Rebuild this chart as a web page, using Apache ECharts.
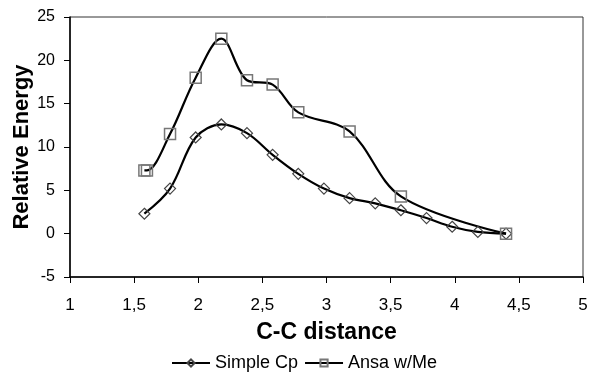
<!DOCTYPE html>
<html>
<head>
<meta charset="utf-8">
<script src="https://cdn.jsdelivr.net/npm/echarts@6/dist/echarts.min.js"></script>
<style>
html,body{margin:0;padding:0;background:#fff;}
#container{width:589px;height:372px;}
</style>
</head>
<body>
<div id="container"></div>
<script>
// data
var simpleX = [1.58, 1.78, 1.98, 2.18, 2.38, 2.58, 2.78, 2.98, 3.18, 3.38, 3.58, 3.78, 3.98, 4.18, 4.40];
var simpleY = [2.3, 5.2, 11.1, 12.6, 11.6, 9.1, 6.9, 5.2, 4.1, 3.5, 2.7, 1.8, 0.8, 0.2, 0];
var ansaX = [1.58, 1.60, 1.78, 1.98, 2.18, 2.38, 2.58, 2.78, 3.18, 3.58, 4.40];
var ansaY = [7.3, 7.3, 11.5, 18.0, 22.5, 17.7, 17.2, 14.0, 11.8, 4.3, 0];
var seriesNames = ['Simple Cp', 'Ansa w/Me'];

function pairs(xs, ys){
    var out = [];
    for(var i=0;i<xs.length;i++){
        out.push([xs[i], ys[i]]);
    }
    return out;
}

var dom = document.getElementById("container");
var myChart = echarts.init(dom);
var font = 'Liberation Sans, Arial, sans-serif';
var option = {
    animation: false,
    textStyle: {fontFamily: font},
    grid: {
        left: 70,
        right: 6,
        top: 17,
        bottom: 95,
        outerBoundsMode: 'none',
        containLabel: false,
        show: true,
        borderColor: '#333',
        borderWidth: 1
    },
    legend: {
        data: seriesNames,
        bottom: -5,
        left: 166,
        itemWidth: 38,
        itemHeight: 9,
        itemGap: 6,
        textStyle: {fontSize: 18, color: '#000', fontFamily: font}
    },
    xAxis: {
        type: 'value',
        min: 1,
        max: 5,
        interval: 0.5,
        name: 'C-C distance',
        nameLocation: 'middle',
        nameGap: 44,
        nameMoveOverlap: false,
        nameTextStyle: {fontSize: 23, fontWeight: 'bold', color: '#000', fontFamily: font},
        axisLine: {onZero: false, lineStyle: {color: '#000', width: 1.5}},
        axisTick: {show: true, length: 6, lineStyle: {color: '#000'}},
        axisLabel: {
            fontSize: 17,
            color: '#000',
            margin: 20,
            formatter: function(v){ return String(v).replace('.', ','); }
        },
        splitLine: {show: false}
    },
    yAxis: {
        type: 'value',
        min: -5,
        max: 25,
        interval: 5,
        name: 'Relative Energy',
        nameLocation: 'middle',
        nameGap: 37,
        nameMoveOverlap: false,
        nameTextStyle: {fontSize: 22, fontWeight: 'bold', color: '#000', fontFamily: font},
        axisLine: {show: true, onZero: false, lineStyle: {color: '#000', width: 1.5}},
        axisTick: {show: true, length: 6, lineStyle: {color: '#000'}},
        axisLabel: {fontSize: 16, color: '#000', margin: 15},
        splitLine: {show: false}
    },
    series: [{
        name: seriesNames[0],
        type: 'line',
        smooth: 0.35,
        data: pairs(simpleX, simpleY),
        symbol: 'diamond',
        symbolSize: 11,
        lineStyle: {color: '#000', width: 2.2},
        itemStyle: {color: 'rgba(255,255,255,0)', borderColor: '#444', borderWidth: 1.2}
    },{
        name: seriesNames[1],
        type: 'line',
        smooth: 0.35,
        data: pairs(ansaX, ansaY),
        symbol: 'rect',
        symbolSize: 11,
        lineStyle: {color: '#000', width: 2.2},
        itemStyle: {color: 'rgba(255,255,255,0)', borderColor: '#777', borderWidth: 1.5}
    }]
};
myChart.setOption(option, true);
</script>
</body>
</html>
